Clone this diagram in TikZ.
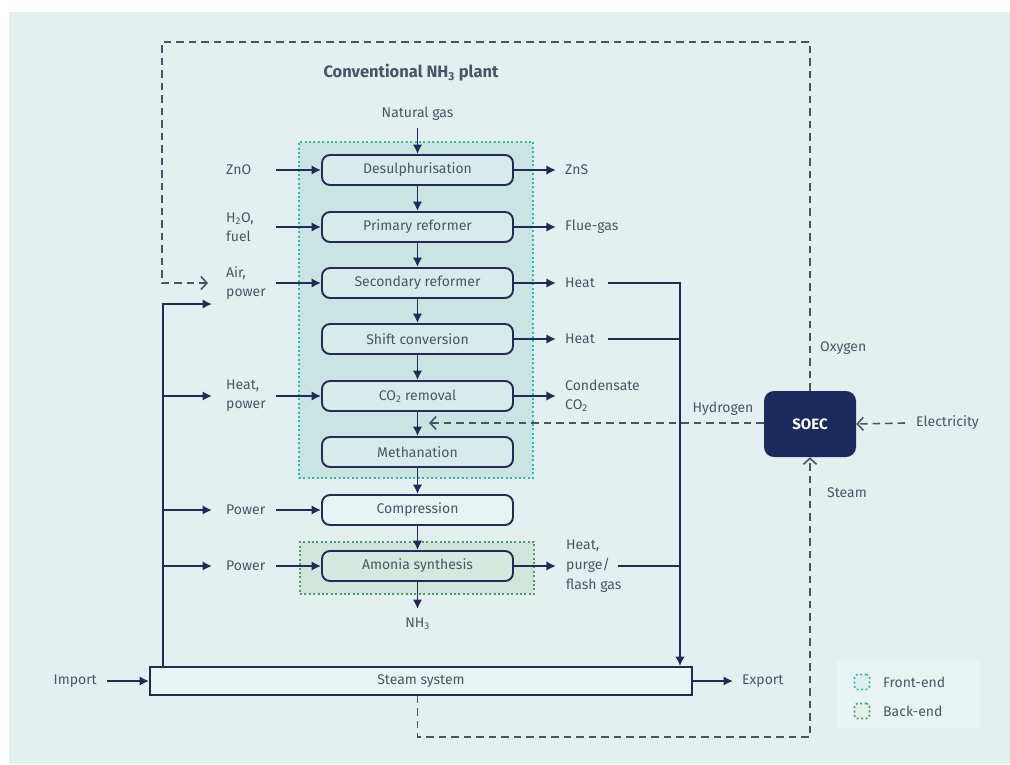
\documentclass[tikz,border=0pt]{standalone}
\usepackage{fontspec}
\setmainfont{Fira Sans}
\usetikzlibrary{arrows.meta}
\definecolor{bg}{HTML}{E3F0F0}
\definecolor{navy}{HTML}{1E2B5B}
\definecolor{txt}{HTML}{4C5568}
\definecolor{dashc}{HTML}{4A5468}
\definecolor{frontfill}{HTML}{CAE4E1}
\definecolor{frontline}{HTML}{2FB8AC}
\definecolor{backfill}{HTML}{D2E5DA}
\definecolor{backline}{HTML}{4E9A68}
\definecolor{boxfill}{HTML}{D7ECEA}
\definecolor{plainfill}{HTML}{E8F3F3}
\definecolor{synfill}{HTML}{D6E9DF}
\definecolor{legendbg}{HTML}{E8F3F3}
\definecolor{soecfill}{HTML}{1C2A5E}
\tikzset{
  every node/.style={font=\fontsize{14}{19}\selectfont, text=txt},
  proc/.style={draw=navy, line width=1.9pt, rounded corners=8pt,
    minimum width=191pt, minimum height=30pt, fill=boxfill, inner sep=0pt},
  region/.style={line width=1.6pt, dash pattern=on 2pt off 2.4pt,
    inner sep=0pt},
  lbl/.style={inner sep=0pt, align=left, anchor=west},
  pipe/.style={draw=navy, line width=1.9pt},
  flow/.style={pipe, -{Latex[length=9.5pt,width=9.5pt]}},
  dpipe/.style={draw=dashc, line width=1.6pt, dash pattern=on 7.5pt off 5pt},
  dflow/.style={dpipe, -{Straight Barb[length=6pt,width=13pt,line width=1.6pt]}},
}
\begin{document}
\begin{tikzpicture}[x=1pt,y=-1pt]
% page and backdrop
\fill[white] (0,0) rectangle (1010,764);
\fill[bg] (9,12) rectangle (1010,764);
\useasboundingbox (0,0) rectangle (1010,764);

% front-end and back-end zones
\node[region, draw=frontline, fill=frontfill, minimum width=234pt,
  minimum height=336pt] (frontend) at (416,310) {};
\node[region, draw=backline, fill=backfill, minimum width=234pt,
  minimum height=52pt] (backend) at (417,568) {};

% title
\node[font=\fontsize{16.5}{19}\selectfont\bfseries, text=dashc] (title) at (411,73)
  {Conventional NH\textsubscript{3} plant};

% process chain
\node[proc] (desul) at (417.5,170) {Desulphurisation};
\node[proc] (prim)  at (417.5,227) {Primary reformer};
\node[proc] (sec)   at (417.5,283) {Secondary reformer};
\node[proc] (shift) at (417.5,339) {Shift conversion};
\node[proc] (co2)   at (417.5,396) {CO\textsubscript{2} removal};
\node[proc] (meth)  at (417.5,452) {Methanation};
\node[proc, fill=plainfill] (comp) at (417.5,510) {Compression};
\node[proc, fill=synfill] (syn) at (417.5,566) {Amonia synthesis};

\node[inner sep=0pt] (ng) at (417.5,114) {Natural gas};
\coordinate (ngs) at (417.5,128);
\draw[flow] (ngs) -- (desul.north);
\draw[flow] (desul) -- (prim);
\draw[flow] (prim) -- (sec);
\draw[flow] (sec) -- (shift);
\draw[flow] (shift) -- (co2);
\draw[flow] (co2) -- (meth);
\draw[flow] (meth) -- (comp);
\draw[flow] (comp) -- (syn);
\node[inner sep=0pt] (nh3) at (417.5,624) {NH\textsubscript{3}};
\coordinate (nh3e) at (417.5,609);
\draw[flow] (syn) -- (nh3e);

% inputs on the left
\node[lbl] (inZnO) at (226,170) {ZnO};
\node[lbl] (inH2O) at (226,227) {H\textsubscript{2}O,\\fuel};
\node[lbl] (inAir) at (226,283) {Air,\\power};
\node[lbl] (inHeat) at (226,396) {Heat,\\power};
\node[lbl] (inPow1) at (226,510) {Power};
\node[lbl] (inPow2) at (226,566) {Power};
\foreach \b in {desul,prim,sec,co2,comp,syn}
  \draw[flow] (\b.west) ++(-45,0) coordinate (s-\b) -- (\b.west);

% outputs on the right
\node[lbl] (outZnS) at (565,170) {ZnS};
\node[lbl] (outFlue) at (565,227) {Flue-gas};
\node[lbl] (outHeatA) at (565,283) {Heat};
\node[lbl] (outHeatB) at (565,339) {Heat};
\node[lbl] (outCond) at (565,396) {Condensate\\CO\textsubscript{2}};
\node[lbl, font=\fontsize{14}{20}\selectfont] (outPurge) at (566,566)
  {Heat,\\purge/\\flash gas};
\foreach \b in {desul,prim,sec,shift,co2,syn}
  \draw[flow] (\b.east) -- ++(42,0) coordinate (e-\b);

% steam system
\node[draw=navy, line width=1.9pt, fill=plainfill, minimum width=542pt,
  minimum height=28pt, inner sep=0pt] (steam) at (421,681) {Steam system};
\node[lbl, anchor=east] (import) at (97,681) {Import};
\coordinate (imps) at (107,681);
\draw[flow] (imps) -- (steam.west);
\node[lbl] (export) at (742,681) {Export};
\coordinate (expe) at (733,681);
\draw[flow] (steam.east) -- (expe);

% heat recovered to the steam system
\coordinate (hA) at (608,283);
\coordinate (hB) at (608,339);
\coordinate (hC) at (618,566);
\coordinate (hc) at (680,283);
\draw[flow] (hA) -- (hc) -- (hc |- steam.north);
\draw[pipe] (hB) -- (hB -| hc);
\draw[pipe] (hC) -- (hC -| hc);

% utilities from the steam system
\coordinate (f1) at (163,304);
\coordinate (f2) at (163,396);
\coordinate (f3) at (163,510);
\coordinate (f4) at (163,566);
\coordinate (t1) at (212,304);
\coordinate (t2) at (212,396);
\coordinate (t3) at (212,510);
\coordinate (t4) at (212,566);
\draw[flow] (steam.north -| f1) -- (f1) -- (t1);
\draw[flow] (f2) -- (t2);
\draw[flow] (f3) -- (t3);
\draw[flow] (f4) -- (t4);

% electrolyser
\node[fill=soecfill, rounded corners=10pt, minimum width=92pt,
  minimum height=66pt, inner sep=0pt, text=white,
  font=\fontsize{15}{17}\selectfont\bfseries] (soec) at (810,424) {SOEC};
\node[lbl] (elec) at (916,423) {Electricity};
\coordinate (elecs) at (905,423);
\draw[dflow] (elecs) -- (soec.east);
\node[inner sep=0pt] (h2) at (723,409) {Hydrogen};
\coordinate (h2e) at (429,423);
\draw[dflow] (soec.west |- h2e) -- (h2e);
\node[lbl] (oxy) at (820,348) {Oxygen};
\coordinate (o1) at (810,42);
\coordinate (o2) at (162,42);
\coordinate (o3) at (162,283);
\coordinate (o4) at (208,283);
\draw[dflow] (soec.north) -- (o1) -- (o2) -- (o3) -- (o4);
\node[lbl] (stm) at (827,493) {Steam};
\coordinate (s1) at (417.5,737);
\coordinate (s2) at (810,737);
\draw[dflow] (steam.south -| s1) -- (s1) -- (s2) -- (soec.south);

% legend
\fill[legendbg] (837,660) rectangle (980,728);
\node[region, draw=frontline, fill=frontfill!60, rounded corners=3pt,
  minimum width=15pt, minimum height=15pt] (legF) at (862,682) {};
\node[region, draw=backline, fill=backfill!60, rounded corners=3pt,
  minimum width=15pt, minimum height=15pt] (legB) at (862,711) {};
\node[lbl] (legFt) at (883,682) {Front-end};
\node[lbl] (legBt) at (883,711) {Back-end};
\end{tikzpicture}
\end{document}
